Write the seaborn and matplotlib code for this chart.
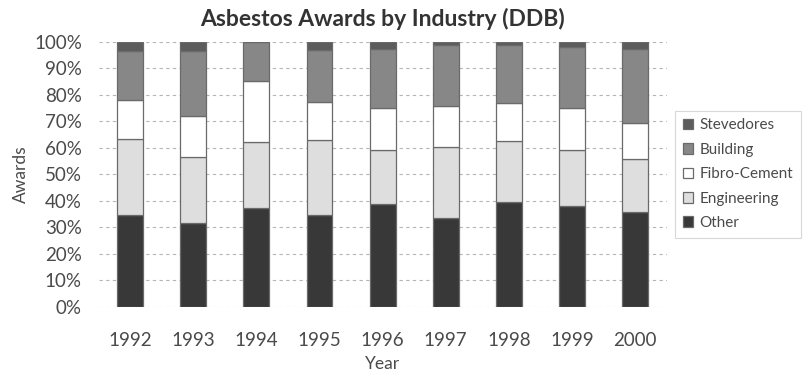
import matplotlib
matplotlib.use("Agg")
import matplotlib.pyplot as plt
import seaborn as sns
import numpy as np
import pandas as pd

years = ["1992", "1993", "1994", "1995", "1996", "1997", "1998", "1999", "2000"]
other = [34.6, 31.5, 37.4, 34.6, 38.8, 33.6, 39.6, 38.1, 35.8]
engineering = [28.7, 25.0, 24.6, 28.3, 20.3, 26.8, 22.9, 21.0, 19.8]
fibro_cement = [14.7, 15.5, 23.3, 14.5, 15.8, 15.3, 14.5, 15.8, 13.8]
building = [18.6, 24.6, 14.7, 19.5, 22.4, 23.1, 21.8, 23.0, 27.9]
stevedores = [3.4, 3.4, 0.0, 3.1, 2.7, 1.2, 1.2, 2.1, 2.7]

series_names = ["Other", "Engineering", "Fibro-Cement", "Building", "Stevedores"]
series_vals = [other, engineering, fibro_cement, building, stevedores]
colors = ["#383838", "#dedede", "#ffffff", "#878787", "#5c5c5c"]

sns.set_theme(style="white")
plt.rcParams["font.family"] = ["Lato", "DejaVu Sans"]
text_color = "#4a4a4a"

fig = plt.figure(figsize=(8.08, 3.76), dpi=100)
ax = fig.add_axes([0.122, 0.184, 0.703, 0.705])

bottom = np.zeros(len(years))
for name, vals, col in zip(series_names, series_vals, colors):
    df = pd.DataFrame({"Year": years, "Value": vals})
    sns.barplot(data=df, x="Year", y="Value", ax=ax, color=col, bottom=bottom,
                width=0.41, edgecolor="#6a6a6a", linewidth=0.9, saturation=1,
                label=name, zorder=3)
    bottom = bottom + np.array(vals)

ax.set_xlim(-0.5, 8.5)
ax.set_ylim(0, 100)
ax.set_yticks(np.arange(0, 101, 10))
ax.set_yticklabels([f"{v}%" for v in range(0, 101, 10)])
ax.yaxis.grid(True, linestyle=(0, (3, 3)), color="#b5b5b5", linewidth=0.8, zorder=0)
ax.xaxis.grid(False)
for s in ax.spines.values():
    s.set_visible(False)
ax.tick_params(axis="both", length=0, labelsize=13.5, colors=text_color)
ax.tick_params(axis="x", pad=18)
ax.tick_params(axis="y", pad=12)
ax.set_xlabel("Year", fontsize=12.5, color=text_color, labelpad=5)
ax.set_ylabel("Awards", fontsize=12.5, color=text_color, labelpad=4)
ax.set_title("Asbestos Awards by Industry (DDB)", fontsize=16.5, fontweight="bold",
             color="#333333", pad=11)

h, l = ax.get_legend_handles_labels()
leg = ax.legend(h[::-1], l[::-1], loc="center left", bbox_to_anchor=(1.015, 0.5),
                fontsize=11, frameon=True, handlelength=0.7, handleheight=0.7,
                handletextpad=0.4, labelspacing=0.68, borderpad=0.5, fancybox=False,
                edgecolor="#cfcfcf", labelcolor=text_color, borderaxespad=0)
leg.get_frame().set_linewidth(0.8)

fig.savefig("out.png", dpi=100)
